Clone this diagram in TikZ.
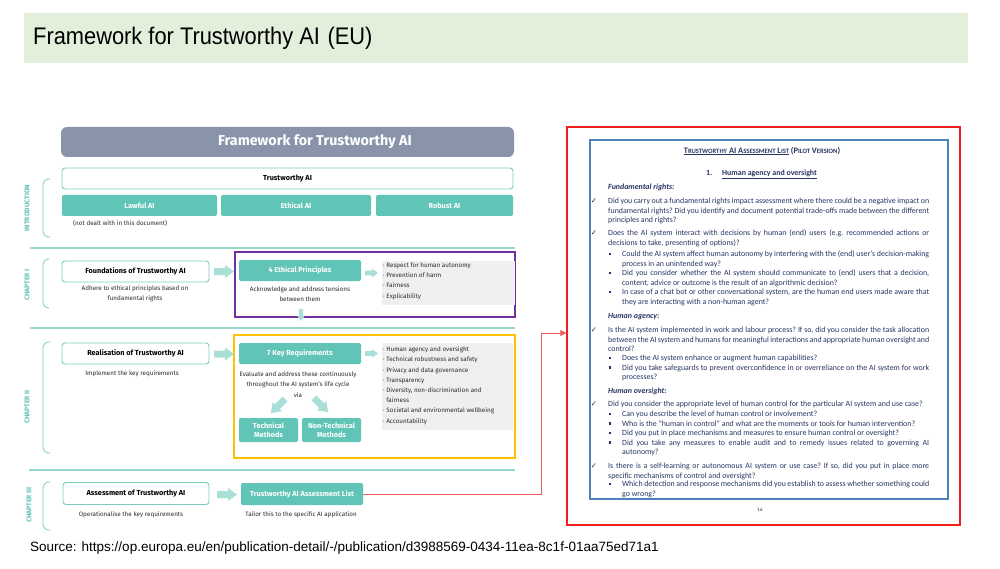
\documentclass[tikz,border=0pt]{standalone}
\usepackage{fontspec}
\usetikzlibrary{arrows.meta}
\newfontfamily\titlefont{Liberation Sans}
\newfontfamily\eufont{Fira Sans}
\newfontfamily\docfont{Carlito}
\newfontfamily\symfont{DejaVu Sans}
\definecolor{bannergreen}{RGB}{226, 239, 218}
\definecolor{euteal}{RGB}{96, 196, 182}
\definecolor{lightteal}{RGB}{170, 223, 215}
\definecolor{lineteal}{RGB}{150, 215, 206}
\definecolor{headgrey}{RGB}{137, 147, 170}
\definecolor{boxgrey}{RGB}{239, 239, 239}
\definecolor{princpurple}{RGB}{112, 48, 160}
\definecolor{reqyellow}{RGB}{255, 192, 0}
\definecolor{listred}{RGB}{240, 30, 30}
\definecolor{linkred}{RGB}{240, 90, 90}
\definecolor{docblue}{RGB}{79, 129, 189}
\definecolor{docink}{RGB}{40, 52, 100}
\definecolor{eutext}{RGB}{45, 45, 45}
\newcommand{\labfont}{\eufont\bfseries\fontsize{7.3}{8.6}\selectfont}
\newcommand{\notefont}{\eufont\fontsize{6.3}{10.2}\selectfont}
\newcommand{\docsize}{\docfont\frenchspacing\fontsize{7.9}{9.6}\selectfont}
\newcommand{\fsc}[2]{#1{\fontsize{6.6}{8}\selectfont #2}}

\begin{document}
\begin{tikzpicture}[
    x=1pt, y=-1pt,
    tealbox/.style={rounded corners=2pt, fill=euteal, text=white, font=\labfont, inner sep=0pt, align=center},
    outlinebox/.style={rounded corners=3pt, draw=euteal!85, line width=0.9pt, fill=white, text=black, font=\labfont, inner sep=0pt},
    note/.style={font=\notefont, text=eutext, align=center, inner sep=0pt},
    chapter/.style={rotate=90, font=\eufont\bfseries\fontsize{6.8}{7}\selectfont, text=euteal, inner sep=0pt},
    bracket/.style={draw=euteal!85, line width=0.8pt, rounded corners=6pt},
    divider/.style={draw=lineteal, line width=1.2pt},
    itemlist/.style={font=\notefont, text=eutext, align=left, anchor=north west, inner sep=0pt},
    docpara/.style={font=\docsize, text=docink, anchor=base west, inner sep=0pt, text width=321pt, align=justify},
    subpara/.style={docpara, text width=307pt},
    dochead/.style={font=\docsize\bfseries\itshape, text=docink, anchor=base west, inner sep=0pt},
    tick/.style={font=\symfont\fontsize{7.5}{8}\selectfont, text=docink, inner sep=0pt},
    bullet/.style={fill=docink, inner sep=0pt, minimum size=2.4pt},
    fatarrow/.pic={\fill[lightteal] (-10,-3.5) -- (1,-3.5) -- (1,-6.5) -- (10,0) -- (1,6.5) -- (1,3.5) -- (-10,3.5) -- cycle;}
]
\useasboundingbox (0,0) rectangle (1000,569);
\fill[white] (0,0) rectangle (1000,569);

% Slide title
\fill[bannergreen] (24,13) rectangle (968,63);
\node[anchor=west, inner sep=0pt, font=\titlefont\fontsize{24}{28}\selectfont] (slidetitle) at (33,38)
    {\scalebox{0.91}[1]{Framework for Trustworthy AI\hspace{0.35em}(EU)}};

% Framework header
\node[rounded corners=6pt, fill=headgrey, minimum width=453pt, minimum height=30pt, inner sep=0pt] (header) at (287.5,142) {};
\node[font=\eufont\bfseries\fontsize{14.3}{16}\selectfont, text=white] (headtitle) at (315,142) {Framework for Trustworthy AI};

% Introduction
\node[outlinebox, minimum width=451pt, minimum height=21pt] (trustai) at (287.5,178.5) {Trustworthy AI};
\node[tealbox, minimum width=155pt, minimum height=21pt] (lawful) at (139.5,205.5) {Lawful AI};
\node[tealbox, minimum width=150pt, minimum height=21pt] (ethical) at (296,205.5) {Ethical AI};
\node[tealbox, minimum width=137pt, minimum height=21pt] (robust) at (444.5,205.5) {Robust AI};
\node[note, anchor=west] (notdealt) at (73,223) {(not dealt with in this document)};
\node[chapter] (introlab) at (27,208) {INTRODUCTION};
\draw[bracket] (50,179) -- (43,179) -- (43,237) -- (50,237);
\draw[divider] (30,248) -- (515,248);

% Chapter I
\node[chapter] (ch1lab) at (27,285) {CHAPTER I};
\draw[bracket] (49,259) -- (43,259) -- (43,308) -- (49,308);
\node[outlinebox, minimum width=147pt, minimum height=21pt] (found) at (135.5,271.5) {Foundations of Trustworthy AI};
\node[note] (foundtxt) at (135,294) {Adhere to ethical principles based on\\fundamental rights};
\pic at (224,271.5) {fatarrow};
\draw[princpurple, line width=1.2pt] (235,252) rectangle (515,317);
\node[tealbox, minimum width=122pt, minimum height=21pt] (ethic4) at (300,270.5) {4 Ethical Principles};
\node[note] (ethictxt) at (300,294) {Acknowledge and address tensions\\between them};
\pic[scale=0.65] at (371.5,273) {fatarrow};
\fill[boxgrey] (382,261) rectangle (515,305);
\node[itemlist] (principles) at (383,262.5) {· Respect for human autonomy\\· Prevention of harm\\· Fairness\\· Explicability};
\pic[scale=0.6, rotate=-90] at (301,315) {fatarrow};
\draw[divider] (30,328) -- (515,328);

% Chapter II
\node[chapter] (ch2lab) at (27,407) {CHAPTER II};
\draw[bracket] (50,342) -- (43,342) -- (43,453) -- (50,453);
\draw[reqyellow, line width=1.3pt] (234,335) rectangle (515,458);
\node[outlinebox, minimum width=147pt, minimum height=21pt] (realise) at (135.5,353.5) {Realisation of Trustworthy AI};
\node[note] (realisetxt) at (132,374) {Implement the key requirements};
\pic at (224,354) {fatarrow};
\node[tealbox, minimum width=122pt, minimum height=21pt] (key7) at (300,353.5) {7 Key Requirements};
\node[note] (keytxt) at (298,384.5) {Evaluate and address these continuously\\throughout the AI system’s life cycle\\via};
\pic[rotate=-135] at (278,406) {fatarrow};
\pic[rotate=-45] at (321,405) {fatarrow};
\node[tealbox, minimum width=59pt, minimum height=24pt] (techm) at (268.5,430) {Technical\\Methods};
\node[tealbox, minimum width=59pt, minimum height=24pt] (nontechm) at (331.5,430) {Non-Technical\\Methods};
\pic[scale=0.65] at (371.5,353.5) {fatarrow};
\fill[boxgrey] (382,343) rectangle (513,430);
\node[itemlist] (requirements) at (383,346.5) {· Human agency and oversight\\· Technical robustness and safety\\· Privacy and data governance\\· Transparency\\· Diversity, non-discrimination and\\\phantom{· }fairness\\· Societal and environmental wellbeing\\· Accountability};
\draw[divider] (29,470) -- (515,470);

% Chapter III
\node[chapter] (ch3lab) at (29,505) {CHAPTER III};
\draw[bracket] (50,482) -- (43,482) -- (43,530) -- (50,530);
\node[outlinebox, minimum width=146pt, minimum height=22pt] (assess) at (136,493.5) {Assessment of Trustworthy AI};
\node[note] (assesstxt) at (131,515) {Operationalise the key requirements};
\pic at (227,494.5) {fatarrow};
\node[tealbox, minimum width=122pt, minimum height=22pt] (asslist) at (302,494) {Trustworthy AI Assessment List};
\node[note] (asslisttxt) at (301,515) {Tailor this to the specific AI application};

% Assessment list page
\node[draw=listred, line width=1.5pt, minimum width=393pt, minimum height=398pt, inner sep=0pt] (assessdoc) at (763.5,326) {};
\node[draw=docblue, line width=1.8pt, minimum width=358pt, minimum height=359pt, inner sep=0pt] (docpage) at (769,319.5) {};
\draw[linkred, line width=1pt, -{Triangle[length=6pt, width=6pt]}] (asslist.east) -- ++(178,0) |- ([yshift=-7pt]assessdoc.west);

\node[font=\docfont\bfseries\fontsize{8.4}{10}\selectfont, text=docink] (doctitle) at (762,151)
    {\underline{\fsc{T}{RUSTWORTHY} AI \fsc{A}{SSESSMENT} \fsc{L}{IST}} (\fsc{P}{ILOT} \fsc{V}{ERSION})};
\node[font=\docsize\bfseries, text=docink, anchor=base west, inner sep=0pt] (secnum) at (706,175.5) {1.};
\node[font=\docsize\bfseries, text=docink, anchor=base west, inner sep=0pt] (sectitle) at (722,175.5) {\underline{Human agency and oversight}};

% Fundamental rights
\node[dochead] (fundhead) at (608,189.5) {Fundamental rights:};
\node[tick] (t1) at (594,201) {✓};
\node[docpara] (p1) at (608,203.5) {Did you carry out a fundamental rights impact assessment where there could be a negative impact on\linebreak fundamental rights? Did you identify and document potential trade-offs made between the different\linebreak principles and rights?};
\node[tick] (t2) at (594,233) {✓};
\node[docpara] (p2) at (608,235.5) {Does the AI system interact with decisions by human (end) users (e.g. recommended actions or\linebreak decisions to take, presenting of options)?};
\node[bullet] (b1) at (610,254) {};
\node[subpara] (p3) at (622,256.5) {Could the AI system affect human autonomy by interfering with the (end) user’s decision-making\linebreak process in an unintended way?};
\node[bullet] (b2) at (610,273) {};
\node[subpara] (p4) at (622,275.5) {Did you consider whether the AI system should communicate to (end) users that a decision,\linebreak content, advice or outcome is the result of an algorithmic decision?};
\node[bullet] (b3) at (610,292) {};
\node[subpara] (p5) at (622,294.5) {In case of a chat bot or other conversational system, are the human end users made aware that\linebreak they are interacting with a non-human agent?};

% Human agency
\node[dochead] (agencyhead) at (608,318.5) {Human agency:};
\node[tick] (t3) at (594,330) {✓};
\node[docpara] (p6) at (608,332.5) {Is the AI system implemented in work and labour process? If so, did you consider the task allocation\linebreak between the AI system and humans for meaningful interactions and appropriate human oversight and\linebreak control?};
\node[bullet] (b4) at (610,358) {};
\node[subpara] (p7) at (622,360.5) {Does the AI system enhance or augment human capabilities?};
\node[bullet] (b5) at (610,367.5) {};
\node[subpara] (p8) at (622,370) {Did you take safeguards to prevent overconfidence in or overreliance on the AI system for work\linebreak processes?};

% Human oversight
\node[dochead] (oversighthead) at (608,393.5) {Human oversight:};
\node[tick] (t4) at (594,404) {✓};
\node[docpara] (p9) at (608,406.5) {Did you consider the appropriate level of human control for the particular AI system and use case?};
\node[bullet] (b6) at (610,414) {};
\node[subpara] (p10) at (622,416.5) {Can you describe the level of human control or involvement?};
\node[bullet] (b7) at (610,423.5) {};
\node[subpara] (p11) at (622,426) {Who is the “human in control” and what are the moments or tools for human intervention?};
\node[bullet] (b8) at (610,433) {};
\node[subpara] (p12) at (622,435.5) {Did you put in place mechanisms and measures to ensure human control or oversight?};
\node[bullet] (b9) at (610,442.5) {};
\node[subpara] (p13) at (622,445) {Did you take any measures to enable audit and to remedy issues related to governing AI\linebreak autonomy?};
\node[tick] (t5) at (594,466) {✓};
\node[docpara] (p14) at (608,468.5) {Is there is a self-learning or autonomous AI system or use case? If so, did you put in place more\linebreak specific mechanisms of control and oversight?};
\node[bullet] (b10) at (610,484) {};
\node[subpara] (p15) at (622,486.5) {Which detection and response mechanisms did you establish to assess whether something could\linebreak go wrong?};
\node[font=\docfont\fontsize{5}{6}\selectfont, text=docink] (pagenum) at (760,510) {16};

% Source
\node[anchor=west, inner sep=0pt, font=\titlefont\fontsize{13.5}{15}\selectfont] (source) at (30,548)
    {Source: https://op.europa.eu/en/publication-detail/-/publication/d3988569-0434-11ea-8c1f-01aa75ed71a1};
\end{tikzpicture}
\end{document}
